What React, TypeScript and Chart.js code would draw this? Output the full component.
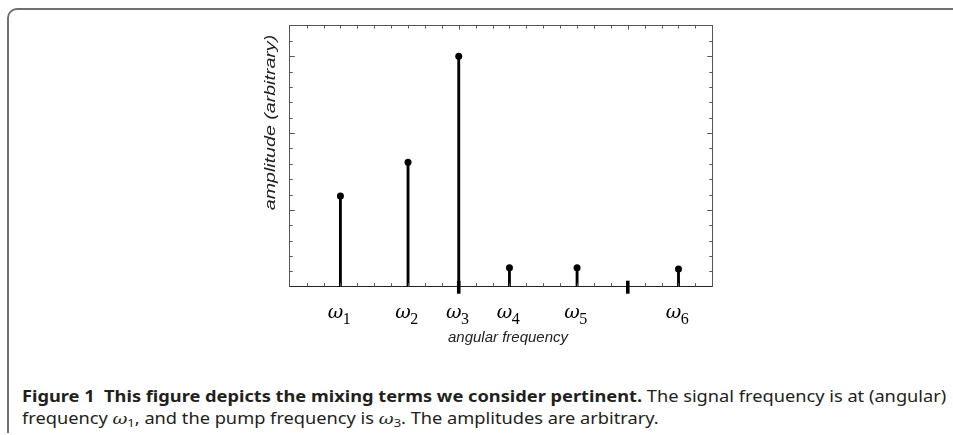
import React, { useEffect, useLayoutEffect, useRef } from 'react';
import { Chart, registerables } from 'chart.js';

Chart.register(...registerables);

// ---- data ----
const stemPositions = [3, 7, 10, 13, 17, 23];
const stemAmplitudes = [5.9, 8.1, 15.0, 1.24, 1.24, 1.15];
const stemSubscripts = ['1', '2', '3', '4', '5', '6'];
const xRange = [0, 25];
const yRange = [0, 17];
const xMajorTicks = [10, 20];
const yMajorTicks = [5, 10, 15];
const xTitle = 'angular frequency';
const yTitle = 'amplitude (arbitrary)';

const OMEGA_FONT = 'italic 19px "DejaVu Serif", "Liberation Serif", serif';
const SUB_FONT = '16px "Liberation Serif", "DejaVu Serif", serif';

const axisDecor = {
  id: 'axisDecor',
  afterDraw(chart: any) {
    const { ctx, chartArea: a, scales } = chart;
    const xs = scales.x;
    const ys = scales.y;
    const line = (x1: number, y1: number, x2: number, y2: number) => {
      ctx.beginPath();
      ctx.moveTo(x1, y1);
      ctx.lineTo(x2, y2);
      ctx.stroke();
    };
    ctx.save();
    // inward ticks along x
    ctx.strokeStyle = '#555';
    ctx.lineWidth = 1;
    xs.ticks.forEach((t: any) => {
      const v = t.value;
      if (v <= xRange[0] || v >= xRange[1]) return;
      const px = Math.round(xs.getPixelForValue(v)) + 0.5;
      const major = xMajorTicks.includes(v);
      if (!major) line(px, a.bottom, px, a.bottom - 3.5);
      line(px, a.top, px, a.top + (major ? 4 : 3));
    });
    // inward ticks along y
    ys.ticks.forEach((t: any) => {
      const v = t.value;
      if (v <= yRange[0] || v >= yRange[1]) return;
      const py = Math.round(ys.getPixelForValue(v)) + 0.5;
      const len = yMajorTicks.includes(v) ? 5 : 3;
      line(a.left, py, a.left + len, py);
      line(a.right, py, a.right - len, py);
    });
    // heavy major ticks crossing the bottom axis
    ctx.strokeStyle = '#000';
    ctx.lineWidth = 3.6;
    xMajorTicks.forEach((v) => {
      const px = xs.getPixelForValue(v);
      line(px, a.bottom - 6, px, a.bottom + 7);
    });
    // omega labels
    ctx.fillStyle = '#000';
    ctx.textBaseline = 'alphabetic';
    ctx.textAlign = 'left';
    stemPositions.forEach((v, i) => {
      const px = xs.getPixelForValue(v);
      ctx.font = OMEGA_FONT;
      const w1 = ctx.measureText('ω').width;
      ctx.font = SUB_FONT;
      const w2 = ctx.measureText(stemSubscripts[i]).width;
      const x0 = px - (w1 + w2) / 2 - 1;
      ctx.font = OMEGA_FONT;
      ctx.fillText('ω', x0, a.bottom + 31.5);
      ctx.font = SUB_FONT;
      ctx.fillText(stemSubscripts[i], x0 + w1 - 0.5, a.bottom + 37.5);
    });
    // x title
    ctx.fillStyle = '#222';
    ctx.textAlign = 'center';
    ctx.font = 'italic 15px "Liberation Sans", Arial, sans-serif';
    ctx.fillText(xTitle, (a.left + a.right) / 2 + 7, a.bottom + 55);
    // y title (stretched along its length)
    ctx.save();
    ctx.translate(a.left - 14.5, a.top + 97);
    ctx.rotate(-Math.PI / 2);
    ctx.scale(1.4, 1);
    ctx.font = 'italic 14px "Liberation Sans", Arial, sans-serif';
    ctx.fillText(yTitle, 0, 0);
    ctx.restore();
    ctx.restore();
  },
};

const hiddenAxis = (position: string, range: number[], color: string) => ({
  type: 'linear',
  position,
  min: range[0],
  max: range[1],
  offset: false,
  ticks: { display: false, stepSize: 1, autoSkip: false },
  grid: { display: false, drawTicks: false, offset: false },
  border: { display: true, color, width: 1 },
  title: { display: false },
});

export default function App() {
  const canvasRef = useRef<HTMLCanvasElement | null>(null);
  const capRef = useRef<HTMLDivElement | null>(null);

  useEffect(() => {
    if (!canvasRef.current) return;
    const points = stemPositions.map((x, i) => ({ x, y: stemAmplitudes[i] }));
    const chart = new Chart(canvasRef.current, {
      type: 'bar',
      data: {
        datasets: [
          {
            type: 'bar',
            data: points,
            backgroundColor: '#000',
            borderWidth: 0,
            barThickness: 2.2,
            xAxisID: 'x',
            yAxisID: 'y',
          } as any,
          {
            type: 'scatter',
            data: points,
            backgroundColor: '#000',
            borderWidth: 0,
            pointRadius: 3.5,
            xAxisID: 'x',
            yAxisID: 'y',
          } as any,
        ],
      },
      options: {
        animation: false,
        responsive: false,
        devicePixelRatio: 1,
        layout: { padding: { left: 289.7, right: 953 - 712.3, top: 25.5, bottom: 360 - 286.7 } },
        plugins: { legend: { display: false }, tooltip: { enabled: false } },
        scales: {
          x: hiddenAxis('bottom', xRange, '#222'),
          x2: hiddenAxis('top', xRange, '#555'),
          y: hiddenAxis('left', yRange, '#555'),
          y2: hiddenAxis('right', yRange, '#555'),
        } as any,
      },
      plugins: [axisDecor],
    });
    return () => chart.destroy();
  }, []);

  useLayoutEffect(() => {
    const fit = () => {
      const el = capRef.current;
      if (!el) return;
      el.style.transform = 'none';
      const w = el.offsetWidth;
      if (w > 0) el.style.transform = `scaleX(${924 / w})`;
    };
    fit();
    if ((document as any).fonts?.ready) (document as any).fonts.ready.then(fit);
  }, []);

  const omega = { fontFamily: '"DejaVu Serif", "Liberation Serif", serif', fontSize: 15.5 };
  const sub = { fontSize: 11, position: 'relative' as const, top: 3 };

  return (
    <div style={{ position: 'fixed', left: 0, top: 0, width: 953, height: 435, overflow: 'hidden', background: '#fff' }}>
      <div
        style={{
          position: 'absolute',
          left: 7,
          top: 8,
          width: 1000,
          height: 425,
          borderTop: '2px solid #707070',
          borderLeft: '2px solid #707070',
          borderTopLeftRadius: 10,
          boxSizing: 'border-box',
        }}
      />
      <canvas ref={canvasRef} width={953} height={360} style={{ position: 'absolute', left: 0, top: 0, width: 953, height: 360 }} />
      <div
        ref={capRef}
        style={{
          position: 'absolute',
          left: 22,
          top: 385,
          display: 'inline-block',
          whiteSpace: 'nowrap',
          transformOrigin: 'left top',
          fontFamily: '"Noto Sans", "Open Sans", sans-serif',
          fontSize: 15.5,
          lineHeight: '22px',
          color: '#231f20',
        }}
      >
        <div>
          <b>Figure 1&nbsp;&nbsp;This figure depicts the mixing terms we consider pertinent.</b> The signal frequency is at (angular)
        </div>
        <div>
          frequency <i style={omega}>ω</i>
          <span style={sub}>1</span>, and the pump frequency is <i style={omega}>ω</i>
          <span style={sub}>3</span>. The amplitudes are arbitrary.
        </div>
      </div>
    </div>
  );
}
